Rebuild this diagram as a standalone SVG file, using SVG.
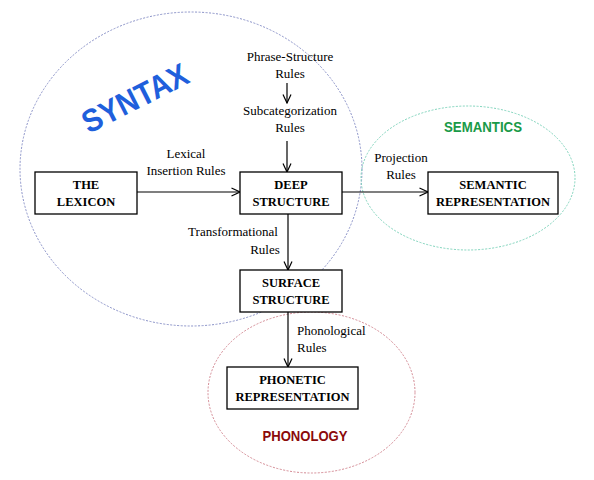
<svg xmlns="http://www.w3.org/2000/svg" width="594" height="480" viewBox="0 0 594 480">
<style>
.box{fill:#fff;stroke:#000;stroke-width:1.3}
.bt{font-family:"Liberation Serif",serif;font-weight:bold;font-size:12.5px;text-anchor:middle;fill:#000}
.lb{font-family:"Liberation Serif",serif;font-size:13px;fill:#000}
.c{text-anchor:middle}
.con{stroke:#000;stroke-width:1.2;fill:none;marker-end:url(#ah)}
.area{fill:none;stroke-width:1;stroke-dasharray:2 1.5}
.ttl{font-family:"Liberation Sans",sans-serif;font-weight:bold}
</style>
<defs>
<marker id="ah" viewBox="0 0 10 10" refX="9.5" refY="5" markerWidth="10" markerHeight="10" markerUnits="userSpaceOnUse" orient="auto">
<polyline points="1,1 9.5,5 1,9" fill="none" stroke="#000" stroke-width="1.2"/>
</marker>
</defs>
<rect width="594" height="480" fill="#fff"/>
<g id="areas">
<ellipse id="syntax-area" class="area" cx="191" cy="169" rx="171" ry="157" stroke="#8a92c8"/>
<ellipse id="semantics-area" class="area" cx="468" cy="178" rx="107" ry="72" stroke="#7fd4bc"/>
<ellipse id="phonology-area" class="area" cx="311.5" cy="392.5" rx="103.5" ry="80.5" stroke="#d48a94"/>
<text class="ttl" x="0" y="0" font-size="32" fill="#1f5fdc" text-anchor="middle" textLength="115" lengthAdjust="spacingAndGlyphs" transform="translate(140,108) rotate(-27)">SYNTAX</text>
<text class="ttl" x="483" y="132" font-size="15" fill="#1a9a48" text-anchor="middle" textLength="78" lengthAdjust="spacingAndGlyphs">SEMANTICS</text>
<text class="ttl" x="305" y="441" font-size="15" fill="#8b0a0a" text-anchor="middle" textLength="85" lengthAdjust="spacingAndGlyphs">PHONOLOGY</text>
</g>
<g id="connectors">
<line class="con" x1="287" y1="83" x2="287" y2="103"/>
<line class="con" x1="287" y1="141" x2="287" y2="172"/>
<line class="con" x1="137" y1="192" x2="240" y2="192"/>
<line class="con" x1="342" y1="192" x2="428" y2="192"/>
<line class="con" x1="288" y1="214" x2="288" y2="270"/>
<line class="con" x1="288" y1="312" x2="288" y2="367"/>
</g>
<g id="labels">
<text class="lb c" x="290" y="61">Phrase-Structure</text>
<text class="lb c" x="290" y="78">Rules</text>
<text class="lb c" x="290" y="115">Subcategorization</text>
<text class="lb c" x="290" y="132">Rules</text>
<text class="lb c" x="186" y="158">Lexical</text>
<text class="lb c" x="186" y="175">Insertion Rules</text>
<text class="lb c" x="401" y="162">Projection</text>
<text class="lb c" x="401" y="179">Rules</text>
<text class="lb c" x="233" y="236">Transformational</text>
<text class="lb c" x="265" y="254">Rules</text>
<text class="lb" x="297" y="335">Phonological</text>
<text class="lb" x="297" y="352">Rules</text>
</g>
<g id="lexicon">
<rect class="box" x="35" y="172" width="102" height="42"/>
<text class="bt" x="86" y="189">THE</text>
<text class="bt" x="86" y="206">LEXICON</text>
</g>
<g id="deep-structure">
<rect class="box" x="240" y="172" width="102" height="42"/>
<text class="bt" x="291" y="189">DEEP</text>
<text class="bt" x="291" y="206">STRUCTURE</text>
</g>
<g id="semantic-representation">
<rect class="box" x="428" y="172" width="130" height="42"/>
<text class="bt" x="493" y="189">SEMANTIC</text>
<text class="bt" x="493" y="206">REPRESENTATION</text>
</g>
<g id="surface-structure">
<rect class="box" x="240" y="270" width="102" height="42"/>
<text class="bt" x="291" y="287">SURFACE</text>
<text class="bt" x="291" y="304">STRUCTURE</text>
</g>
<g id="phonetic-representation">
<rect class="box" x="227" y="367" width="131" height="42"/>
<text class="bt" x="292.5" y="384">PHONETIC</text>
<text class="bt" x="292.5" y="401">REPRESENTATION</text>
</g>
</svg>
